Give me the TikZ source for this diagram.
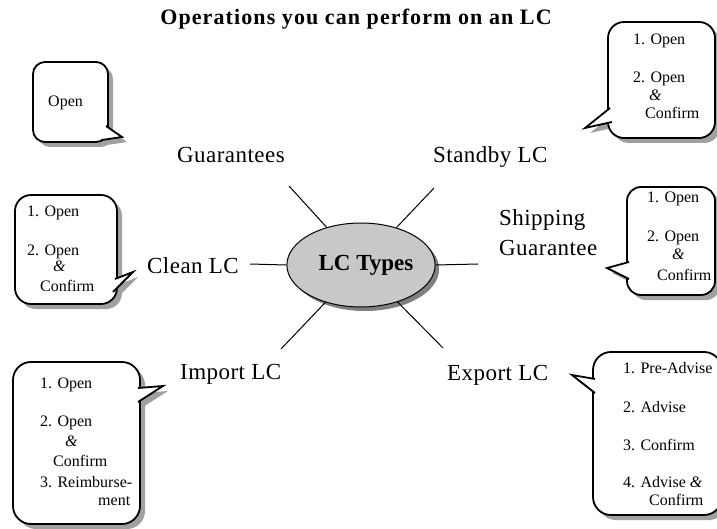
\documentclass[tikz,border=0pt]{standalone}
\usepackage{fontspec}
\setmainfont{Liberation Serif}
\newfontfamily\titlefont[LetterSpace=5]{Liberation Serif}
\newfontfamily\lblfont[LetterSpace=2]{Liberation Serif}
\usetikzlibrary{shapes.geometric,shadows}
\definecolor{shadowgray}{HTML}{A0A0A0}
\definecolor{ellgray}{HTML}{C8C8C8}
\definecolor{ellshadow}{HTML}{808080}
\tikzset{
  boxline/.style={draw=black, line width=1.8pt, line join=miter},
  boxtxt/.style={inner sep=0pt, anchor=base west, font=\fontsize{16}{18}\selectfont},
  lbl/.style={inner sep=0pt, anchor=base west, font=\lblfont\fontsize{23}{30}\selectfont},
  ttl/.style={inner sep=0pt, anchor=base, font=\titlefont\bfseries\fontsize{22}{26}\selectfont},
  spoke/.style={draw=black, line width=1pt},
  hub/.style={ellipse, draw=black, line width=1pt, fill=ellgray, minimum width=146pt, minimum height=84pt, inner sep=0pt,
    font=\bfseries\fontsize{23}{26}\selectfont,
    drop shadow={shadow xshift=4pt, shadow yshift=-4pt, fill=ellshadow, opacity=1}}
}
\newcommand{\mycallout}[6]{%
  \begin{scope}[shift={(5,5)}]
    \fill[shadowgray, rounded corners=#3] #1 rectangle #2;
    \fill[shadowgray] #4 -- #5 -- #6 -- cycle;
  \end{scope}
  \draw[boxline, fill=white, rounded corners=#3] #1 rectangle #2;
  \fill[white] #4 -- #5 -- #6 -- cycle;
  \draw[boxline] #4 -- #5 -- #6;
}
\begin{document}
\begin{tikzpicture}[x=1pt, y=-1pt]
\useasboundingbox (0,0) rectangle (717,529);
\clip (0,0) rectangle (717,529);

% title
\node[ttl] (title) at (356,25) {Operations you can perform on an LC};

% hub
\node[hub] (lc) at (361,265) {\hspace*{10pt}LC Types};

% spokes
\coordinate (cul) at (289,186);
\coordinate (cur) at (434,188);
\coordinate (cl)  at (250,264);
\coordinate (cr)  at (478,264);
\coordinate (cll) at (281,349);
\coordinate (clr) at (443,348);
\draw[spoke] (lc) -- (cul);
\draw[spoke] (lc) -- (cur);
\draw[spoke] (lc.west) -- (cl);
\draw[spoke] (lc.east) -- (cr);
\draw[spoke] (lc) -- (cll);
\draw[spoke] (lc) -- (clr);

% labels
\node[lbl] (guar) at (177,163) {Guarantees};
\node[lbl] (stby) at (433,163) {Standby LC};
\node[lbl] (clean) at (147,273) {Clean LC};
\node[lbl, align=left] (ship) at (499,255) {Shipping\\Guarantee};
\node[lbl] (imp) at (180,379) {Import LC};
\node[lbl] (exp) at (447,380) {Export LC};

% callout boxes
\mycallout{(33,62)}{(108,142)}{12pt}{(106,126)}{(122,137)}{(102,140)}
\node[boxtxt] (g1) at (48,107) {Open};

\mycallout{(15,195)}{(117,304)}{16pt}{(115,279)}{(133,272)}{(113,292)}
\node[boxtxt] (c1) at (27,217) {1. Open};
\node[boxtxt] (c2) at (27,255) {2. Open};
\node[boxtxt] (c3) at (53,272) {\textit{\&}};
\node[boxtxt] (c4) at (40,291) {Confirm};

\mycallout{(608,22)}{(715,138)}{16pt}{(610,108)}{(585,128)}{(612,122)}
\node[boxtxt] (s1) at (633,45) {1. Open};
\node[boxtxt] (s2) at (633,83) {2. Open};
\node[boxtxt] (s3) at (649,101) {\textit{\&}};
\node[boxtxt] (s4) at (645,119) {Confirm};

\mycallout{(627,187)}{(715,295)}{14pt}{(629,262)}{(607,268)}{(629,279)}
\node[boxtxt] (h1) at (647,203) {1. Open};
\node[boxtxt] (h2) at (647,242) {2. Open};
\node[boxtxt] (h3) at (672,259) {\textit{\&}};
\node[boxtxt] (h4) at (657,280) {Confirm};

\mycallout{(13,362)}{(140,524)}{18pt}{(138,388)}{(163,386)}{(138,402)}
\node[boxtxt] (i1) at (40,388) {1. Open};
\node[boxtxt] (i2) at (40,426) {2. Open};
\node[boxtxt] (i3) at (65,446) {\textit{\&}};
\node[boxtxt] (i4) at (53,466) {Confirm};
\node[boxtxt] (i5) at (40,487) {3. Reimburse-};
\node[boxtxt] (i6) at (98,505) {ment};

\mycallout{(593,352)}{(722,515)}{18pt}{(595,379)}{(572,375)}{(595,393)}
\node[boxtxt] (e1) at (623,373) {1. Pre-Advise};
\node[boxtxt] (e2) at (623,412) {2. Advise};
\node[boxtxt] (e3) at (623,450) {3. Confirm};
\node[boxtxt] (e4) at (623,487) {4. Advise \textit{\&}};
\node[boxtxt] (e5) at (649,505) {Confirm};
\end{tikzpicture}
\end{document}
